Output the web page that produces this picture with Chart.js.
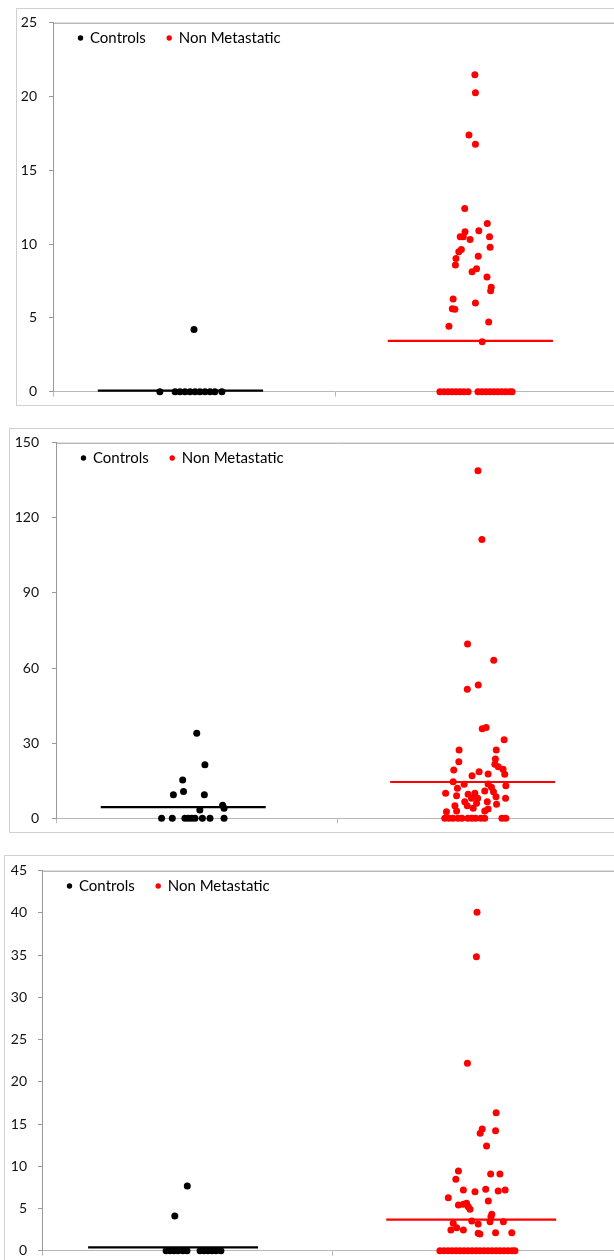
<!DOCTYPE html>
<html>
<head>
<meta charset="utf-8">
<script src="https://cdn.jsdelivr.net/npm/chart.js@4.4.1/dist/chart.umd.min.js"></script>
<style>
  html, body { margin: 0; padding: 0; background: #fff; overflow: hidden; width: 614px; height: 1260px; }
  .box { position: absolute; border: 1px solid #d0d0d0; box-sizing: border-box; }
  canvas { position: absolute; left: 0; }
</style>
</head>
<body>
<div class="box" id="box1"></div><canvas id="c1"></canvas>
<div class="box" id="box2"></div><canvas id="c2"></canvas>
<div class="box" id="box3"></div><canvas id="c3"></canvas>
<script>
// series
var seriesNames  = ["Controls", "Non Metastatic"]
var seriesColors = ["#000000", "#ff0000"]
// x position of each group (x axis runs 0..2, boundary at 1)
var groupCenters = [0.452, 1.48]

// ---- panel 1 ----
var yTicks1 = [0, 25, 5]   // min, max, step
var means1  = [0.07, 3.45]
var ctrlX1 = [0.379, 0.433, 0.450, 0.468, 0.486, 0.504, 0.521, 0.539, 0.557, 0.574, 0.599, 0.500]
var ctrlY1 = [0, 0, 0, 0, 0, 0, 0, 0, 0, 0, 0, 4.22]
var nonX1 = [1.496, 1.498, 1.475, 1.498, 1.460, 1.540, 1.461, 1.510, 1.444, 1.455,
             1.479, 1.548, 1.550, 1.448, 1.439, 1.429, 1.427, 1.508, 1.502, 1.486,
             1.539, 1.554, 1.552, 1.419, 1.416, 1.425, 1.498, 1.404, 1.545, 1.522,
             1.372, 1.387, 1.401, 1.415, 1.429, 1.443, 1.457, 1.472,
             1.507, 1.521, 1.535, 1.549, 1.563, 1.577, 1.591, 1.605, 1.619, 1.628]
var nonY1 = [21.48, 20.26, 17.39, 16.76, 12.42, 11.40, 10.84, 10.91, 10.50, 10.50,
             10.32, 10.50, 9.78, 9.64, 9.49, 9.03, 8.58, 9.17, 8.33, 8.13,
             7.77, 7.07, 6.84, 6.28, 5.62, 5.58, 6.01, 4.43, 4.72, 3.39,
             0, 0, 0, 0, 0, 0, 0, 0,
             0, 0, 0, 0, 0, 0, 0, 0, 0, 0]

// ---- panel 2 ----
var yTicks2 = [0, 150, 30]
var means2  = [4.5, 14.5]
var ctrlX2 = [0.500, 0.529, 0.450, 0.453, 0.417, 0.527, 0.511, 0.592, 0.597,
              0.375, 0.413, 0.458, 0.470, 0.482, 0.494, 0.520, 0.547, 0.597]
var ctrlY2 = [34.0, 21.4, 15.3, 10.7, 9.4, 9.4, 3.3, 5.2, 4.0,
              0, 0, 0, 0, 0, 0, 0, 0, 0]
var nonX2 = [1.499, 1.513, 1.462, 1.555, 1.500, 1.461, 1.514, 1.528,
             1.592, 1.432, 1.564, 1.431, 1.561, 1.559, 1.413, 1.503, 1.478, 1.535,
             1.571, 1.588, 1.594, 1.411, 1.598, 1.426, 1.450, 1.535, 1.547, 1.554,
             1.384, 1.423, 1.464, 1.488, 1.476, 1.498, 1.523, 1.563, 1.597, 1.452,
             1.494, 1.532, 1.565, 1.461, 1.417, 1.423, 1.523, 1.535, 1.387, 1.482,
             1.381, 1.396, 1.410, 1.428, 1.442, 1.463, 1.477, 1.491, 1.509, 1.523, 1.584, 1.598]
var nonY2 = [138.8, 111.3, 69.6, 63.1, 53.2, 51.5, 35.8, 36.3,
             31.4, 27.3, 27.3, 22.6, 23.7, 21.6, 19.3, 18.6, 17.0, 17.7,
             20.6, 19.6, 17.6, 14.6, 13.0, 12.0, 13.6, 13.7, 12.4, 10.6,
             10.0, 9.0, 9.6, 10.0, 8.0, 8.0, 10.9, 8.6, 8.0, 6.6,
             6.0, 6.6, 5.6, 5.0, 5.0, 2.9, 2.9, 3.7, 2.6, 4.0,
             0, 0, 0, 0, 0, 0, 0, 0, 0, 0, 0, 0]

// ---- panel 3 ----
var yTicks3 = [0, 45, 5]
var means3  = [0.4, 3.67]
var ctrlX3 = [0.501, 0.458,
              0.428, 0.441, 0.455, 0.469, 0.486, 0.500, 0.545, 0.559, 0.572, 0.586, 0.600, 0.617]
var ctrlY3 = [7.66, 4.1,
              0, 0, 0, 0, 0, 0, 0, 0, 0, 0, 0, 0]
var nonX3 = [1.500, 1.498, 1.467, 1.566, 1.518, 1.511, 1.564, 1.533,
             1.436, 1.547, 1.579, 1.427, 1.453, 1.493, 1.530, 1.573, 1.597, 1.401,
             1.539, 1.436, 1.453, 1.464, 1.470, 1.476, 1.551, 1.548, 1.482, 1.545,
             1.591, 1.418, 1.504, 1.430, 1.410, 1.453, 1.504, 1.510, 1.564, 1.620,
             1.372, 1.386, 1.400, 1.414, 1.428, 1.441, 1.455, 1.469, 1.483, 1.497,
             1.510, 1.524, 1.538, 1.552, 1.566, 1.579, 1.593, 1.607, 1.621, 1.631]
var nonY3 = [40.07, 34.8, 22.2, 16.35, 14.4, 13.9, 14.2, 12.4,
             9.44, 9.08, 9.08, 8.45, 7.19, 6.99, 7.27, 7.07, 7.19, 6.28,
             5.89, 5.41, 5.49, 5.61, 5.21, 4.9, 4.31, 4.03, 3.52, 3.44,
             3.44, 3.24, 3.16, 2.73, 2.45, 2.45, 2.06, 1.98, 2.13, 2.13,
             0, 0, 0, 0, 0, 0, 0, 0, 0, 0,
             0, 0, 0, 0, 0, 0, 0, 0, 0, 0]

// page layout of the three panels (pixels)
var layout = [
  { id: 1, boxLeft: 16, boxTop: 8,   boxBottom: 406,  plotLeft: 53, plotTop: 22.7,  plotBottom: 391.7,  plotRight: 617, labelPad: 12 },
  { id: 2, boxLeft: 9,  boxTop: 428, boxBottom: 833,  plotLeft: 56, plotTop: 442.7, plotBottom: 818.3,  plotRight: 619, labelPad: 13 },
  { id: 3, boxLeft: 4,  boxTop: 855, boxBottom: 1266, plotLeft: 42, plotTop: 870.7, plotBottom: 1250.7, plotRight: 622, labelPad: 11 }
]

var CANVAS_W = 630
var CANVAS_EXTRA = 12   // canvas reaches a bit past the box so tick labels get room
var MEAN_HALF = 0.293

function toPoints(xs, ys) {
  var pts = []
  for (var i = 0; i < xs.length; i++) pts.push({ x: xs[i], y: ys[i] })
  return pts
}

// legend drawn inside the plot area, top left
var insideLegend = {
  id: 'insideLegend',
  afterDatasetsDraw: function(chart) {
    var ctx = chart.ctx, area = chart.chartArea
    var x = area.left + 27.5, y = area.top + 15.3
    ctx.save()
    ctx.font = '15px Lato'
    ctx.textBaseline = 'middle'
    ctx.textAlign = 'left'
    chart.data.datasets.forEach(function(ds) {
      if (!ds.inLegend) return
      ctx.fillStyle = ds.backgroundColor
      ctx.beginPath()
      ctx.arc(x, y, 2.7, 0, Math.PI * 2)
      ctx.fill()
      ctx.fillStyle = '#000'
      ctx.fillText(ds.label, x + 9.5, y + 0.5)
      x += 9.5 + ctx.measureText(ds.label).width + 23.5
    })
    ctx.restore()
  }
}

// top edge of the plot area
var plotFrame = {
  id: 'plotFrame',
  beforeDatasetsDraw: function(chart) {
    var ctx = chart.ctx, area = chart.chartArea
    ctx.save()
    ctx.strokeStyle = '#9a9a9a'
    ctx.lineWidth = 1
    ctx.beginPath()
    ctx.moveTo(area.left, area.top + 0.5)
    ctx.lineTo(area.right, area.top + 0.5)
    ctx.stroke()
    ctx.restore()
  }
}

function makeChart(p, ticks, means, ctrlX, ctrlY, nonX, nonY) {
  var box = document.getElementById('box' + p.id)
  box.style.left = p.boxLeft + 'px'
  box.style.top = p.boxTop + 'px'
  box.style.width = (CANVAS_W - p.boxLeft + 20) + 'px'
  box.style.height = (p.boxBottom - p.boxTop) + 'px'

  var canvas = document.getElementById('c' + p.id)
  var top = p.boxTop - CANVAS_EXTRA
  var h = p.boxBottom - p.boxTop + 2 * CANVAS_EXTRA
  canvas.width = CANVAS_W
  canvas.height = h
  canvas.style.width = CANVAS_W + 'px'
  canvas.style.height = h + 'px'
  canvas.style.top = top + 'px'

  var xAxisH = 6
  var padBottom = h - (p.plotBottom - top) - xAxisH

  var meanLine = function(k) {
    return {
      label: seriesNames[k] + ' mean',
      data: [{ x: groupCenters[k] - MEAN_HALF, y: means[k] }, { x: groupCenters[k] + MEAN_HALF, y: means[k] }],
      showLine: true,
      borderColor: seriesColors[k],
      borderWidth: 2.2,
      pointRadius: 0,
      clip: false
    }
  }

  return new Chart(canvas, {
    type: 'scatter',
    data: {
      datasets: [
        { label: seriesNames[0], inLegend: true, data: toPoints(ctrlX, ctrlY), clip: false,
          backgroundColor: seriesColors[0], borderWidth: 0, pointRadius: 3.5 },
        { label: seriesNames[1], inLegend: true, data: toPoints(nonX, nonY), clip: false,
          backgroundColor: seriesColors[1], borderWidth: 0, pointRadius: 3.5 },
        meanLine(0),
        meanLine(1)
      ]
    },
    options: {
      responsive: false,
      animation: false,
      events: [],
      layout: {
        autoPadding: false,
        padding: { left: 0, top: p.plotTop - top, right: CANVAS_W - p.plotRight, bottom: padBottom }
      },
      plugins: { legend: { display: false }, tooltip: { enabled: false } },
      scales: {
        x: {
          type: 'linear', min: 0, max: 2,
          ticks: { display: false, stepSize: 1 },
          grid: { drawOnChartArea: false, drawTicks: true, tickLength: 5, color: '#b8b8b8' },
          border: { color: '#b8b8b8' },
          afterFit: function(s) { s.height = xAxisH }
        },
        y: {
          min: ticks[0], max: ticks[1],
          ticks: { stepSize: ticks[2], padding: p.labelPad, color: '#111',
                   font: { family: 'Lato', size: 14 } },
          grid: { drawOnChartArea: false, drawTicks: true, tickLength: 4, color: '#9a9a9a' },
          border: { color: '#9a9a9a' },
          afterFit: function(s) { s.width = p.plotLeft }
        }
      }
    },
    plugins: [plotFrame, insideLegend]
  })
}

makeChart(layout[0], yTicks1, means1, ctrlX1, ctrlY1, nonX1, nonY1)
makeChart(layout[1], yTicks2, means2, ctrlX2, ctrlY2, nonX2, nonY2)
makeChart(layout[2], yTicks3, means3, ctrlX3, ctrlY3, nonX3, nonY3)
</script>
</body>
</html>
